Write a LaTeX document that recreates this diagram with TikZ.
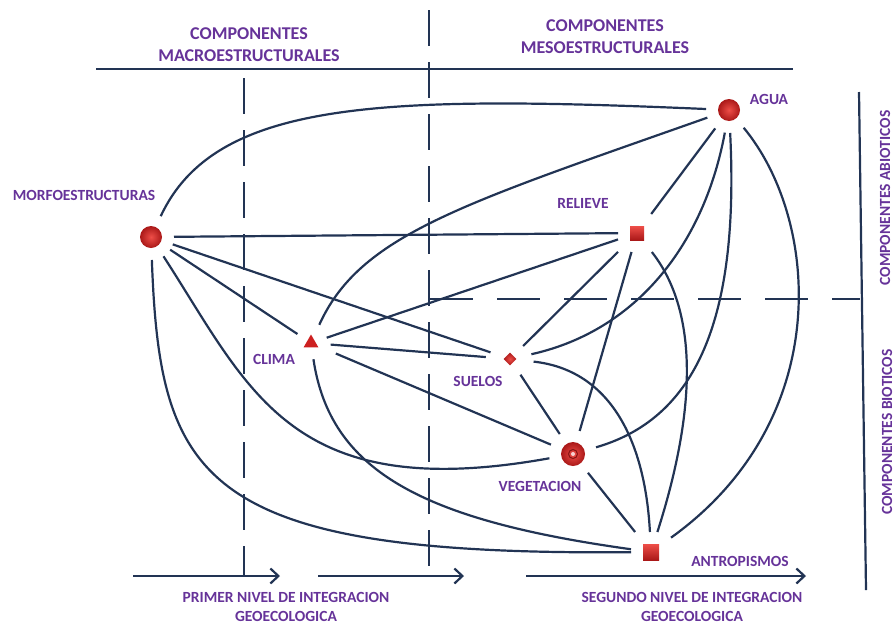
\documentclass[tikz,border=0pt]{standalone}
\usepackage{fontspec}
\setmainfont{Carlito}
\usepackage{xcolor}
\usepackage{tikz}
\usetikzlibrary{shapes.geometric, arrows.meta}
\definecolor{linkblue}{RGB}{34,52,84}
\definecolor{lblpurple}{RGB}{102,51,153}
\definecolor{symred}{RGB}{205,32,32}
\definecolor{symlight}{RGB}{238,78,72}
\definecolor{symdark}{RGB}{170,24,24}
\tikzset{
  link/.style={draw=linkblue, line width=2.2pt},
  redball/.style={circle, shading=radial, inner color=symlight, outer color=symdark, minimum size=22pt, inner sep=0pt, outer sep=12pt},
  sq/.style={rectangle, top color=symlight, bottom color=symdark, minimum size=14pt, inner sep=0pt, outer sep=12pt},
  tri/.style={regular polygon, regular polygon sides=3, fill=symred, minimum size=17pt, inner sep=0pt, outer sep=12pt},
  dia/.style={rectangle, rotate=45, shading=radial, inner color=symlight, outer color=symdark, minimum size=9pt, inner sep=0pt, outer sep=14pt},
  lbl/.style={font=\fontsize{15.5}{19}\selectfont\bfseries, text=lblpurple, align=center},
  headtxt/.style={font=\fontsize{18}{22}\selectfont\bfseries, text=lblpurple, align=center}
}
\begin{document}
\begin{tikzpicture}[x=1pt, y=1pt]
\useasboundingbox (0,0) rectangle (896,-627);
\draw[link] (96,-69) -- (793,-69);
\draw[link, dash pattern=on 36pt off 16pt] (244,-78) -- (244,-576);
\draw[link, dash pattern=on 36pt off 16pt] (429,-10) -- (429,-567);
\draw[link, dash pattern=on 43pt off 24pt] (430,-299) -- (860,-299);
\draw[link] (859,-92) -- (866,-590);
\foreach \xa/\xb in {133/280, 318/464, 526/806}{
\draw[link, -{Straight Barb[length=8pt, width=15pt]}] (\xa,-576) -- (\xb,-576);
}
\node[headtxt] (macro) at (249,-45) {COMPONENTES\\MACROESTRUCTURALES};
\node[headtxt] (meso) at (605,-37) {COMPONENTES\\MESOESTRUCTURALES};
\node[lbl, rotate=90] (abio) at (885,-198) {COMPONENTES ABIOTICOS};
\node[lbl, rotate=90] (bio) at (887,-432) {COMPONENTES BIOTICOS};
\node[lbl] (nivel1) at (286,-607) {PRIMER NIVEL DE INTEGRACION\\GEOECOLOGICA};
\node[lbl] (nivel2) at (692,-607) {SEGUNDO NIVEL DE INTEGRACION\\GEOECOLOGICA};
\node[redball] (morf) at (151,-237) {};
\node[redball] (agua) at (729,-110) {};
\node[sq] (relieve) at (637,-233) {};
\node[tri] (clima) at (311,-343) {};
\node[dia] (suelos) at (510,-359) {};
\node[redball, minimum size=24pt] (veg) at (573,-454) {};
\node[sq, minimum size=16pt] (antr) at (651,-552) {};
\fill[white!80!symred] (veg.center) circle (2pt);
\draw[symdark!80!black, line width=1pt] (veg.center) circle (4.5pt);
\node[lbl] (morflbl) at (84,-195) {MORFOESTRUCTURAS};
\node[lbl] (agualbl) at (769,-99) {AGUA};
\node[lbl] (relievelbl) at (583,-203) {RELIEVE};
\node[lbl] (climalbl) at (274,-359) {CLIMA};
\node[lbl] (sueloslbl) at (478,-381) {SUELOS};
\node[lbl] (veglbl) at (540,-486) {VEGETACION};
\node[lbl] (antrlbl) at (740,-561) {ANTROPISMOS};
\foreach \a/\b in {morf/relieve, morf/suelos, morf/clima, agua/relieve, clima/relieve, clima/suelos, clima/veg, suelos/relieve, suelos/veg, relieve/veg, veg/antr}{
\draw[link] (\a) -- (\b);
}
\draw[link] (morf) .. controls (215,-100) and (380,-95) .. (agua);
\draw[link] (morf) .. controls (250,-390) and (290,-505) .. (veg);
\draw[link] (morf) .. controls (160,-480) and (200,-556) .. (antr);
\draw[link] (agua) .. controls (460,-205) and (360,-235) .. (clima);
\draw[link] (agua) .. controls (705,-240) and (640,-330) .. (suelos);
\draw[link] (agua) .. controls (740,-330) and (690,-420) .. (veg);
\draw[link] (agua) .. controls (820,-220) and (835,-420) .. (antr);
\draw[link] (relieve) .. controls (705,-320) and (690,-430) .. (antr);
\draw[link] (suelos) .. controls (610,-370) and (645,-440) .. (antr);
\draw[link] (clima) .. controls (330,-470) and (420,-520) .. (antr);
\end{tikzpicture}
\end{document}
